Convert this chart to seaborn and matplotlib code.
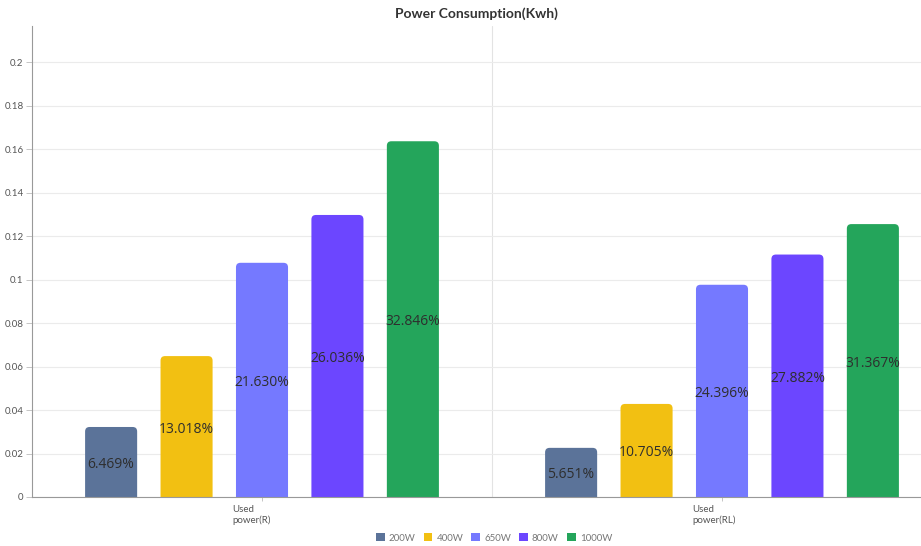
import numpy as np
import pandas as pd
import matplotlib
matplotlib.use("Agg")
import matplotlib.pyplot as plt
import matplotlib.transforms as mtransforms
from matplotlib.patches import FancyBboxPatch, Patch
import seaborn as sns

categories = ["Used\npower(R)", "Used\npower(RL)"]
series = ["200W", "400W", "650W", "800W", "1000W"]
values_R = [0.0322, 0.0648, 0.1077, 0.1297, 0.1636]
values_RL = [0.0226, 0.0428, 0.0976, 0.1115, 0.1255]
pct_R = ["6.469%", "13.018%", "21.630%", "26.036%", "32.846%"]
pct_RL = ["5.651%", "10.705%", "24.396%", "27.882%", "31.367%"]
colors = ["#5B7399", "#F2C012", "#7579FF", "#6C46FF", "#24A55B"]
yticks = [0, 0.02, 0.04, 0.06, 0.08, 0.1, 0.12, 0.14, 0.16, 0.18, 0.2]
ytick_labels = ["0", "0.02", "0.04", "0.06", "0.08", "0.1", "0.12", "0.14", "0.16", "0.18", "0.2"]

df = pd.DataFrame({
    "category": [categories[0]] * 5 + [categories[1]] * 5,
    "series": series * 2,
    "value": values_R + values_RL,
    "label": pct_R + pct_RL,
})

sns.set_theme(style="white")
plt.rcParams["font.family"] = ["Lato", "DejaVu Sans"]

W, H = 921, 546
fig = plt.figure(figsize=(W / 100, H / 100), dpi=100)
left, right_px, top, bottom = 32, 952, 26, 497
ax = fig.add_axes([left / W, 1 - bottom / H, (right_px - left) / W, (bottom - top) / H])

sns.barplot(data=df, x="category", y="value", hue="series", order=categories,
            hue_order=series, palette=colors, width=0.82, gap=0.31,
            saturation=1, ax=ax, legend=True, edgecolor="none", linewidth=0)

ax.set_xlim(-0.5, 1.5)
ax.set_ylim(0, 0.2166)

# rounded tops
px_x = 2.0 / (right_px - left)
px_y = 0.2166 / (bottom - top)
r_px = 4.5
for p in list(ax.patches):
    if p.get_height() <= 0:
        continue
    x0, w, h = p.get_x(), p.get_width(), p.get_height()
    fc = p.get_facecolor()
    p.remove()
    ext = r_px * px_y * 1.5
    fb = FancyBboxPatch((x0, -ext), w, h + ext,
                        boxstyle=f"round,pad=0,rounding_size={r_px * px_x}",
                        mutation_aspect=px_y / px_x, facecolor=fc, edgecolor="none",
                        zorder=2)
    ax.add_patch(fb)

# labels
lab_off = mtransforms.ScaledTranslation(0, -2.5 / 100, fig.dpi_scale_trans)
for cat_i, cat in enumerate(categories):
    for s_i, s in enumerate(series):
        row = df[(df.category == cat) & (df.series == s)].iloc[0]
        xc = cat_i + (s_i - 2) * 0.164
        ax.text(xc, row.value / 2, row.label, ha="center", va="center",
                fontsize=10, color="#2e2e2e", family=["Open Sans", "DejaVu Sans"],
                zorder=3, transform=ax.transData + lab_off)

# grid & spines
ax.set_yticks(yticks)
ax.set_yticklabels(ytick_labels)
ax.yaxis.grid(True, color="#ebebeb", linewidth=0.8, zorder=0)
ax.axvline(0.5, color="#e3e3e3", linewidth=0.8, zorder=0)
ax.set_axisbelow(True)
for s in ["top", "right"]:
    ax.spines[s].set_visible(False)
for s in ["left", "bottom"]:
    ax.spines[s].set_color("#999999")
    ax.spines[s].set_linewidth(0.8)
ax.tick_params(axis="y", labelsize=7, colors="#666666", length=4, width=0.6,
               direction="out", left=True, pad=2, color="#bbbbbb")
ax.tick_params(axis="x", labelsize=7, colors="#666666", length=3, width=0.6,
               bottom=True, color="#bbbbbb", pad=3)
for lbl in ax.get_yticklabels():
    lbl.set_color("#555555")
offset = mtransforms.ScaledTranslation(-30 / 100, 0, fig.dpi_scale_trans)
for lbl in ax.get_xticklabels():
    lbl.set_horizontalalignment("left")
    lbl.set_multialignment("left")
    lbl.set_transform(lbl.get_transform() + offset)
    lbl.set_color("#555555")
ax.set_xlabel("")
ax.set_ylabel("")

# legend
ax.get_legend().remove()
handles = [Patch(facecolor=c, edgecolor="none") for c in colors]
fig.legend(handles, series, loc="center", bbox_to_anchor=(494 / W, 1 - 538 / H),
           ncol=5, frameon=False, fontsize=7, handlelength=0.9, handleheight=0.9,
           handletextpad=0.4, columnspacing=0.85, labelcolor="#777777")

fig.text(476 / W, 1 - 14 / H, "Power Consumption(Kwh)", ha="center", va="center",
         fontsize=10, fontweight="bold", color="#333333")

fig.savefig("out.png", dpi=100)
